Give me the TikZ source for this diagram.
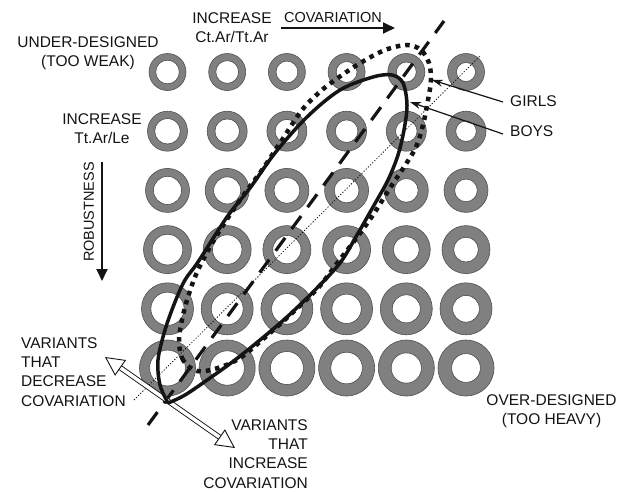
\documentclass[tikz,border=0pt]{standalone}
\usepackage{fontspec}
\setmainfont{Liberation Sans}
\usetikzlibrary{arrows.meta}
\definecolor{ringgray}{RGB}{128,128,128}
\definecolor{ringedge}{RGB}{80,80,80}
\definecolor{ink}{RGB}{20,20,20}
\begin{document}
\begin{tikzpicture}[x=1pt,y=-1pt,
  lbl/.style={font=\fontsize{15.5}{19.3}\selectfont, text=ink, inner sep=0pt, align=center},
  smalllbl/.style={font=\fontsize{14.5}{17}\selectfont, text=ink, inner sep=0pt},
  bigarrow/.style={ink, line width=1.8pt, -{Triangle[length=12pt,width=11pt]}},
  pointer/.style={ink, line width=1.2pt, -{Stealth[length=11pt,width=7pt]}},
  hollow/.style={ink, line width=0.9pt, double=white, double distance=3.5pt,
    {Triangle[open,length=19pt,width=19pt]}-{Triangle[open,length=19pt,width=19pt]}},
  boysline/.style={ink, line width=3.5pt, line join=round},
  girlsline/.style={ink, line width=4.5pt, dash pattern=on 4.5pt off 5pt},
  dashline/.style={ink, line width=3.2pt, dash pattern=on 16pt off 11pt},
  dotline/.style={ink, line width=0.8pt, dash pattern=on 1.2pt off 1.8pt}]
\useasboundingbox (0,0) rectangle (626,491);
\fill[white] (0,0) rectangle (626,491);

% rings
\foreach \r/\ro in {0/18.5,1/20,2/22,3/24,4/26,5/28}{
  \foreach \c in {0,...,5}{
    \pgfmathsetmacro\xx{167.5+59.7*\c}
    \pgfmathsetmacro\yy{72+59.2*\r}
    \pgfmathsetmacro\ri{\ro*(0.64-0.025*\c)}
    \fill[ringgray,even odd rule] (\xx,\yy) circle[radius=\ro pt] (\xx,\yy) circle[radius=\ri pt];
    \draw[ringedge,line width=0.6pt] (\xx,\yy) circle[radius=\ro pt] (\xx,\yy) circle[radius=\ri pt];
  }
}

% coordinates
\coordinate (dotA) at (134,400);
\coordinate (dotB) at (480,56);
\coordinate (dashA) at (148,425);
\coordinate (dashB) at (444,21);
\coordinate (vl) at (105,357);
\coordinate (vr) at (235,448);
\coordinate (covA) at (281,28);
\coordinate (covB) at (395,28);
\coordinate (robA) at (102,162);
\coordinate (robB) at (102,281);
\coordinate (girlsT) at (432,80);
\coordinate (boysT) at (410,102);

\draw[dotline] (dotA) -- (dotB);
\draw[dashline] (dashA) -- (dashB);
\draw[hollow] (vl) -- (vr);

% girls (dotted)
\draw[girlsline] plot[smooth cycle, tension=0.55] coordinates {
 (197,371) (183,360) (179,342) (181,325) (187,300) (198,270) (217,235) (240,200)
 (262,170) (282,140) (302,110) (322,90) (342,75) (362,62) (385,50) (407,45)
 (421,50) (429,63) (431,80) (428,100) (423,125) (416,147) (404,167) (390,188)
 (373,215) (355,240) (338,262) (318,288) (290,315) (262,340) (240,358) (218,368)};

% boys (solid)
\draw[boysline] plot[smooth, tension=0.55] coordinates {
 (168,403) (160,385) (158,360) (165,330) (175,302) (185,280) (198,262) (227,217)
 (250,188) (275,153) (307,117) (340,90) (373,77) (392,75) (403,83) (407,105)
 (404,130) (398,155) (388,180) (373,207) (357,235) (340,263) (315,290) (287,317)
 (260,340) (235,360) (210,378) (185,395) (168,403)};

% labels
\node[lbl] (under) at (88,53.5) {UNDER-DESIGNED\\(TOO WEAK)};
\node[lbl] (inccov) at (232,28) {INCREASE\\Ct.Ar/Tt.Ar};
\node[smalllbl] (cov) at (333,17.5) {COVARIATION};
\draw[bigarrow] (covA) -- (covB);
\node[lbl] (inctt) at (102,129) {INCREASE\\Tt.Ar/Le};
\node[smalllbl, rotate=90] (rob) at (89,212) {ROBUSTNESS};
\draw[bigarrow] (robA) -- (robB);
\node[lbl, anchor=west] (girls) at (510,101) {GIRLS};
\node[lbl, anchor=west] (boys) at (510,131) {BOYS};
\draw[pointer] ([xshift=-7pt,yshift=-1pt]girls.west) -- (girlsT);
\draw[pointer] ([xshift=-7pt,yshift=-3pt]boys.west) -- (boysT);
\node[lbl, align=left, anchor=west] (decr) at (21,372) {VARIANTS\\THAT\\DECREASE\\COVARIATION};
\node[lbl, align=right, anchor=east] (incr) at (308,454) {VARIANTS\\THAT\\INCREASE\\COVARIATION};
\node[lbl] (over) at (551.5,411) {OVER-DESIGNED\\(TOO HEAVY)};
\end{tikzpicture}
\end{document}
